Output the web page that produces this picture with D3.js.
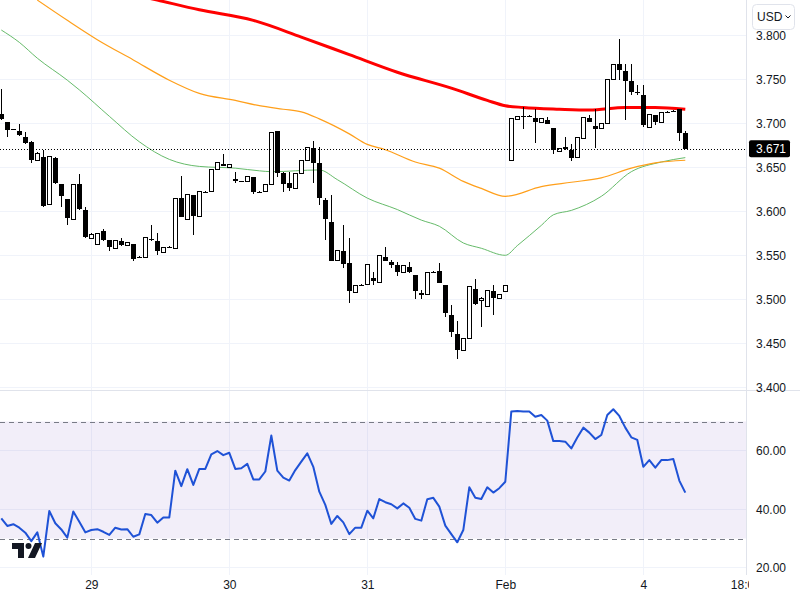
<!DOCTYPE html>
<html>
<head>
<meta charset="utf-8">
<script src="https://cdn.jsdelivr.net/npm/d3@7"></script>
<style>
body { margin: 0; background: #fff; }
text { font-family: "Liberation Sans", Arial, sans-serif; }
</style>
</head>
<body>
<script>
// main.js

// hourly candles, one row per bar: [open, high, low, close]
var ohlc = [
    [3.711, 3.739, 3.704, 3.705], [3.701, 3.702, 3.685, 3.692], [3.693, 3.694, 3.692, 3.693],
    [3.691, 3.699, 3.686, 3.687], [3.685, 3.690, 3.676, 3.678], [3.679, 3.680, 3.655, 3.658],
    [3.658, 3.667, 3.657, 3.666], [3.662, 3.670, 3.605, 3.606], [3.608, 3.663, 3.607, 3.662],
    [3.661, 3.662, 3.631, 3.632], [3.631, 3.631, 3.605, 3.617], [3.614, 3.614, 3.584, 3.592],
    [3.591, 3.631, 3.590, 3.631], [3.631, 3.642, 3.602, 3.603], [3.601, 3.605, 3.570, 3.571],
    [3.569, 3.575, 3.569, 3.574], [3.562, 3.575, 3.562, 3.575], [3.578, 3.580, 3.566, 3.567],
    [3.567, 3.567, 3.555, 3.559], [3.558, 3.567, 3.558, 3.567], [3.566, 3.570, 3.561, 3.562],
    [3.561, 3.564, 3.561, 3.564], [3.563, 3.563, 3.544, 3.546], [3.548, 3.549, 3.547, 3.548],
    [3.547, 3.570, 3.547, 3.570], [3.569, 3.585, 3.566, 3.568], [3.566, 3.575, 3.550, 3.555],
    [3.553, 3.559, 3.553, 3.559], [3.560, 3.561, 3.559, 3.560], [3.558, 3.615, 3.558, 3.615],
    [3.615, 3.640, 3.593, 3.593], [3.591, 3.619, 3.591, 3.619], [3.619, 3.619, 3.573, 3.595],
    [3.594, 3.622, 3.594, 3.622], [3.622, 3.623, 3.621, 3.622], [3.622, 3.648, 3.622, 3.648],
    [3.648, 3.655, 3.648, 3.655], [3.654, 3.665, 3.651, 3.651], [3.650, 3.653, 3.650, 3.653],
    [3.637, 3.645, 3.632, 3.634], [3.634, 3.635, 3.633, 3.634], [3.634, 3.640, 3.634, 3.640],
    [3.639, 3.639, 3.620, 3.622], [3.622, 3.623, 3.621, 3.622], [3.622, 3.631, 3.622, 3.631],
    [3.631, 3.689, 3.631, 3.689], [3.691, 3.691, 3.639, 3.644], [3.644, 3.645, 3.622, 3.631],
    [3.632, 3.645, 3.623, 3.626], [3.626, 3.643, 3.626, 3.643], [3.643, 3.658, 3.643, 3.658],
    [3.658, 3.672, 3.658, 3.672], [3.672, 3.680, 3.632, 3.655], [3.655, 3.673, 3.607, 3.615],
    [3.613, 3.615, 3.567, 3.591], [3.588, 3.619, 3.543, 3.544], [3.544, 3.556, 3.544, 3.556],
    [3.555, 3.585, 3.536, 3.540], [3.541, 3.570, 3.496, 3.509], [3.508, 3.516, 3.508, 3.516],
    [3.516, 3.517, 3.515, 3.516], [3.517, 3.539, 3.517, 3.539], [3.524, 3.531, 3.516, 3.521],
    [3.519, 3.550, 3.519, 3.550], [3.548, 3.559, 3.543, 3.543], [3.542, 3.545, 3.536, 3.539],
    [3.539, 3.542, 3.527, 3.531], [3.530, 3.538, 3.530, 3.538], [3.537, 3.542, 3.530, 3.531],
    [3.528, 3.528, 3.500, 3.509], [3.507, 3.511, 3.500, 3.505], [3.506, 3.530, 3.506, 3.530],
    [3.531, 3.532, 3.530, 3.531], [3.532, 3.541, 3.519, 3.519], [3.516, 3.516, 3.480, 3.484],
    [3.482, 3.493, 3.457, 3.463], [3.461, 3.475, 3.432, 3.442], [3.442, 3.456, 3.442, 3.456],
    [3.455, 3.515, 3.455, 3.515], [3.512, 3.523, 3.494, 3.495], [3.499, 3.503, 3.469, 3.501],
    [3.492, 3.510, 3.492, 3.510], [3.509, 3.516, 3.482, 3.501], [3.501, 3.506, 3.501, 3.506],
    [3.509, 3.516, 3.509, 3.516], [3.658, 3.706, 3.657, 3.705], [3.704, 3.708, 3.704, 3.708],
    [3.708, 3.719, 3.694, 3.708], [3.708, 3.709, 3.707, 3.708], [3.706, 3.716, 3.678, 3.701],
    [3.701, 3.705, 3.701, 3.705], [3.704, 3.707, 3.699, 3.699], [3.695, 3.695, 3.665, 3.670],
    [3.668, 3.671, 3.668, 3.671], [3.671, 3.684, 3.670, 3.672], [3.670, 3.677, 3.657, 3.661],
    [3.661, 3.684, 3.661, 3.684], [3.683, 3.707, 3.683, 3.707], [3.706, 3.709, 3.702, 3.702],
    [3.697, 3.716, 3.672, 3.694], [3.694, 3.700, 3.694, 3.700], [3.700, 3.750, 3.700, 3.750],
    [3.750, 3.767, 3.750, 3.767], [3.767, 3.796, 3.749, 3.761], [3.759, 3.767, 3.704, 3.748],
    [3.748, 3.767, 3.732, 3.736], [3.736, 3.743, 3.732, 3.734], [3.732, 3.743, 3.696, 3.698],
    [3.695, 3.710, 3.695, 3.710], [3.709, 3.709, 3.698, 3.701], [3.701, 3.712, 3.701, 3.712],
    [3.713, 3.714, 3.712, 3.713], [3.714, 3.715, 3.713, 3.714], [3.716, 3.716, 3.680, 3.689],
    [3.689, 3.691, 3.671, 3.671]
];

// RSI(14), one value per bar
var rsiValues = [
    36.9, 34.3, 34.9, 33.7, 32.0, 29.1, 32.1, 23.8, 39.4, 35.2, 33.1, 30.3, 39.2, 35.7, 32.1,
    32.9, 33.2, 32.3, 31.2, 33.7, 33.1, 33.2, 30.6, 31.4, 38.4, 38.0, 35.4, 37.2, 37.2, 53.2,
    47.9, 53.7, 48.3, 53.8, 53.8, 58.8, 59.9, 58.5, 59.3, 53.8, 54.0, 55.5, 50.2, 50.2,
    52.9, 65.2, 53.2, 50.8, 49.8, 53.4, 56.3, 59.1, 54.5, 46.0, 41.5, 35.0, 37.7, 35.5, 31.5,
    33.7, 33.7, 39.5, 36.9, 43.5, 42.4, 41.7, 40.3, 42.0, 40.5, 36.7, 36.1, 43.4, 43.9, 40.9,
    34.4, 31.5, 28.7, 32.9, 47.5, 43.9, 43.5, 47.5, 45.7, 47.2, 49.4,
    73.4, 73.6, 73.4, 73.4, 71.6, 72.2, 70.3, 63.3, 63.3, 63.1, 60.8, 64.5, 67.9, 66.2, 64.0,
    65.4, 72.2, 74.2, 71.9, 67.9, 64.6, 63.7, 54.5, 56.8, 54.2, 56.8, 56.8, 57.2, 49.8, 45.7
];

// moving averages read at some bars: [bar index, value]
var maRed = [
    [15, 3.857], [26, 3.840], [33, 3.829], [42, 3.817], [50, 3.798], [58, 3.778], [66, 3.758],
    [75, 3.740], [81, 3.726], [84, 3.720], [87, 3.718], [93, 3.716], [98, 3.715], [104, 3.718],
    [109, 3.718], [114, 3.716]
];
var maOrange = [
    [6, 3.840], [11, 3.817], [16, 3.795], [22, 3.772], [28, 3.749], [33, 3.734], [39, 3.726],
    [43, 3.720], [47, 3.716], [50, 3.713], [53, 3.705], [58, 3.688], [61, 3.676], [64, 3.670],
    [69, 3.656], [73, 3.649], [77, 3.634], [80, 3.626], [84, 3.617], [90, 3.628], [95, 3.633],
    [100, 3.638], [105, 3.649], [109, 3.655], [114, 3.658]
];
var maGreen = [
    [0, 3.806], [3, 3.792], [6, 3.774], [11, 3.749], [13, 3.738], [18, 3.708], [23, 3.679],
    [28, 3.659], [33, 3.651], [39, 3.649], [43, 3.646], [45, 3.645], [53, 3.647], [56, 3.636],
    [61, 3.615], [66, 3.602], [70, 3.590], [73, 3.583], [77, 3.564], [80, 3.558], [84, 3.550],
    [86, 3.561], [90, 3.584], [92, 3.596], [95, 3.601], [100, 3.617], [105, 3.645], [110, 3.656],
    [114, 3.661]
];

// axis ticks
var priceTicks = [3.40, 3.45, 3.50, 3.55, 3.60, 3.65, 3.70, 3.75, 3.80];
var rsiTicks = [20, 40, 60];
var rsiBands = [30, 70];
var dayIdx = [15, 38, 61, 84, 107, 124];
var dayLabels = ["29", "30", "31", "Feb", "4", "18:00"];
var lastPrice = 3.671;

// SVG dimension variables
var w = 800, h = 600;
var plotW = 746, paneH = 390, rsiBottom = 575;

var svg = d3.select("body")
    .append("svg")
    .attr("width", w)
    .attr("height", h);

// scales
var x = d3.scaleLinear().domain([0, 124]).range([1.3, 745.3]);
var y = d3.scaleLinear().domain([3.4, 3.8]).range([387.3, 35.3]);
var yr = d3.scaleLinear().domain([30, 70]).range([538.5, 421.5]);

// clip paths
var defs = svg.append("defs");
defs.append("clipPath").attr("id", "mainClip")
    .append("rect").attr("width", plotW).attr("height", paneH);
defs.append("clipPath").attr("id", "rsiClip")
    .append("rect").attr("y", paneH + 1).attr("width", plotW).attr("height", rsiBottom - paneH);
defs.append("clipPath").attr("id", "timeClip")
    .append("rect").attr("y", rsiBottom).attr("width", 749).attr("height", 25);

// grid
var grid = svg.append("g").attr("shape-rendering", "crispEdges");
grid.selectAll(".hgrid")
    .data(priceTicks)
    .enter()
    .append("line")
    .attr("x1", 0).attr("x2", plotW)
    .attr("y1", function(d){ return y(d); })
    .attr("y2", function(d){ return y(d); })
    .attr("stroke", "#f0f3fa");
grid.selectAll(".rgrid")
    .data(rsiTicks)
    .enter()
    .append("line")
    .attr("x1", 0).attr("x2", plotW)
    .attr("y1", function(d){ return yr(d); })
    .attr("y2", function(d){ return yr(d); })
    .attr("stroke", "#f0f3fa");
grid.selectAll(".vgrid")
    .data(dayIdx.slice(0, 5))
    .enter()
    .append("line")
    .attr("x1", function(d){ return Math.round(x(d)) + 0.5; })
    .attr("x2", function(d){ return Math.round(x(d)) + 0.5; })
    .attr("y1", 0).attr("y2", rsiBottom)
    .attr("stroke", "#f0f3fa");

// RSI band
svg.append("rect")
    .attr("x", 0)
    .attr("y", yr(70))
    .attr("width", plotW)
    .attr("height", yr(30) - yr(70))
    .attr("fill", "rgba(126,87,194,0.1)");
svg.selectAll(".band")
    .data(rsiBands)
    .enter()
    .append("line")
    .attr("x1", 0).attr("x2", plotW)
    .attr("y1", function(d){ return Math.round(yr(d)) + 0.5; })
    .attr("y2", function(d){ return Math.round(yr(d)) + 0.5; })
    .attr("stroke", "#787b86")
    .attr("stroke-dasharray", "5,4");

// moving averages
var maLine = d3.line()
    .x(function(d){ return x(d[0]); })
    .y(function(d){ return y(d[1]); })
    .curve(d3.curveMonotoneX);

var main = svg.append("g").attr("clip-path", "url(#mainClip)");

main.append("path").datum(maGreen)
    .attr("d", maLine).attr("fill", "none")
    .attr("stroke", "#66bb6a").attr("stroke-width", 1);
main.append("path").datum(maOrange)
    .attr("d", maLine).attr("fill", "none")
    .attr("stroke", "#ff9f1a").attr("stroke-width", 1.2);
main.append("path").datum(maRed)
    .attr("d", maLine).attr("fill", "none")
    .attr("stroke", "#ff0000").attr("stroke-width", 3);

// candles
var candles = main.append("g").attr("shape-rendering", "crispEdges");
candles.selectAll(".wick")
    .data(ohlc)
    .enter()
    .append("line")
    .attr("x1", function(d, i){ return Math.round(x(i)) + 0.5; })
    .attr("x2", function(d, i){ return Math.round(x(i)) + 0.5; })
    .attr("y1", function(d){ return y(d[1]); })
    .attr("y2", function(d){ return y(d[2]); })
    .attr("stroke", "#000");
candles.selectAll(".body")
    .data(ohlc)
    .enter()
    .append("rect")
    .attr("x", function(d, i){
        return d[3] > d[0] ? Math.round(x(i)) - 1.5 : Math.round(x(i)) - 2;
    })
    .attr("y", function(d){ return y(Math.max(d[0], d[3])); })
    .attr("width", function(d){ return d[3] > d[0] ? 4 : 5; })
    .attr("height", function(d){
        return Math.max(1, Math.abs(y(d[0]) - y(d[3])));
    })
    .attr("fill", function(d){ return d[3] > d[0] ? "#fff" : "#000"; })
    .attr("stroke", function(d){ return d[3] > d[0] ? "#000" : "none"; });

// last price line
svg.append("line")
    .attr("x1", 0).attr("x2", plotW)
    .attr("y1", Math.round(y(lastPrice)) + 0.5)
    .attr("y2", Math.round(y(lastPrice)) + 0.5)
    .attr("stroke", "#000")
    .attr("stroke-dasharray", "1,2");

// RSI line
var rsiLine = d3.line()
    .x(function(d, i){ return x(i); })
    .y(function(d){ return yr(d); });
svg.append("g").attr("clip-path", "url(#rsiClip)")
    .append("path").datum(rsiValues)
    .attr("d", rsiLine)
    .attr("fill", "none")
    .attr("stroke", "#1f52d6")
    .attr("stroke-width", 2)
    .attr("stroke-linejoin", "round");

// pane borders
svg.append("line")
    .attr("x1", 0).attr("x2", w)
    .attr("y1", paneH + 0.5).attr("y2", paneH + 0.5)
    .attr("stroke", "#e0e3eb");
svg.append("line")
    .attr("x1", plotW + 0.5).attr("x2", plotW + 0.5)
    .attr("y1", 0).attr("y2", rsiBottom)
    .attr("stroke", "#e0e3eb");

// price axis
var priceAxis = svg.append("g")
    .attr("transform", "translate(" + plotW + ",0)")
    .call(d3.axisRight(y).tickValues(priceTicks).tickFormat(d3.format(".3f")).tickSize(0).tickPadding(10));
var rsiAxis = svg.append("g")
    .attr("transform", "translate(" + plotW + ",0)")
    .call(d3.axisRight(yr).tickValues(rsiTicks).tickFormat(d3.format(".2f")).tickSize(0).tickPadding(10));
var timeAxis = svg.append("g")
    .attr("clip-path", "url(#timeClip)")
    .append("g")
    .attr("transform", "translate(0," + rsiBottom + ")")
    .call(d3.axisBottom(x).tickValues(dayIdx).tickFormat(function(d, i){ return dayLabels[i]; }).tickSize(0).tickPadding(5));

[priceAxis, rsiAxis, timeAxis].forEach(function(a){
    a.select(".domain").remove();
    a.selectAll("text")
        .attr("fill", "#131722")
        .style("font-size", "12px")
        .style("font-family", "'Liberation Sans', Arial, sans-serif");
});

// last price label
svg.append("rect")
    .attr("x", 749)
    .attr("y", y(lastPrice) - 8.5)
    .attr("width", 41)
    .attr("height", 17)
    .attr("rx", 2)
    .attr("fill", "#000");
svg.append("text")
    .attr("x", 756)
    .attr("y", y(lastPrice))
    .attr("dy", "0.32em")
    .attr("fill", "#fff")
    .style("font-size", "12px")
    .text(d3.format(".3f")(lastPrice));

// currency button
svg.append("rect")
    .attr("x", 752.5).attr("y", 4.5)
    .attr("width", 42).attr("height", 25)
    .attr("rx", 4)
    .attr("fill", "#fff")
    .attr("stroke", "#e0e3eb");
svg.append("text")
    .attr("x", 757).attr("y", 17)
    .attr("dy", "0.35em")
    .attr("fill", "#131722")
    .style("font-size", "12px")
    .text("USD");
svg.append("path")
    .attr("d", "M785.5,15.5 L788,18 L790.5,15.5")
    .attr("fill", "none")
    .attr("stroke", "#131722");

// logo
var logo = svg.append("g").attr("fill", "#131722");
logo.append("path").attr("d", "M12,543 H24 V558 H18 V549 H12 Z");
logo.append("circle").attr("cx", 28.5).attr("cy", 546).attr("r", 3);
logo.append("path").attr("d", "M35,543 H42 L35,558 H28 Z");
</script>
</body>
</html>
